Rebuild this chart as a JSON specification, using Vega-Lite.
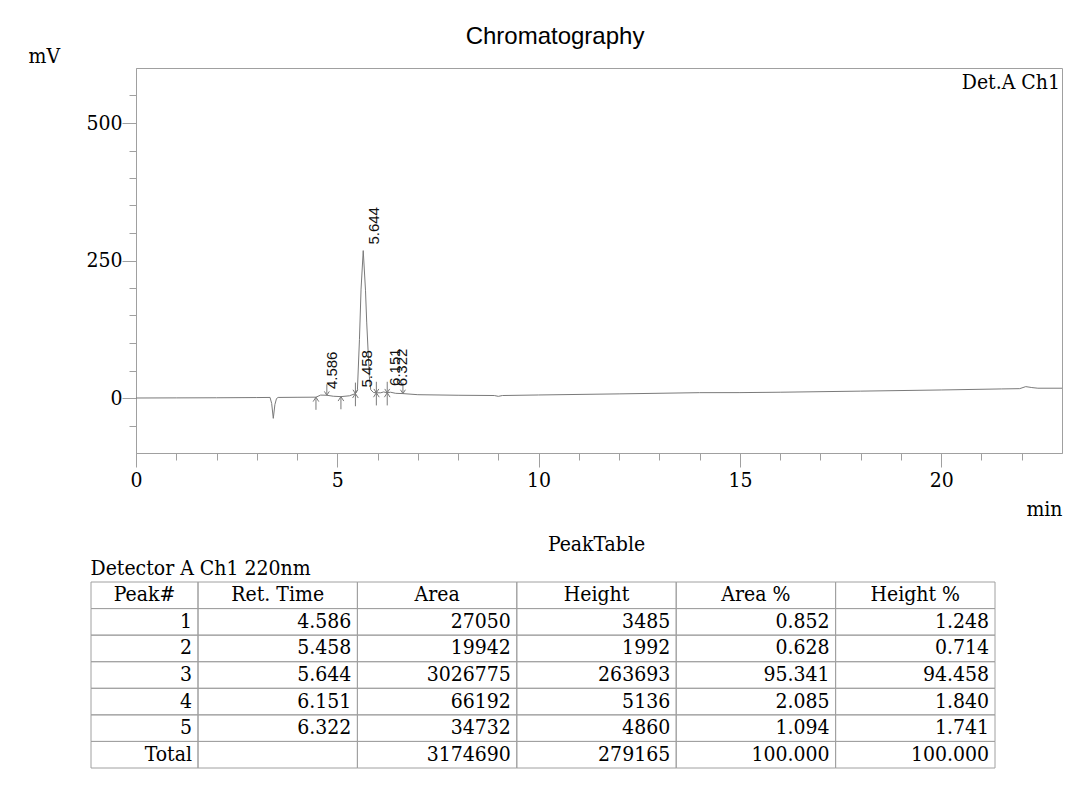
{
  "$schema": "https://vega.github.io/schema/vega-lite/v6.json",
  "background": "white",
  "padding": {"left": 27, "top": 24, "right": 5, "bottom": 5},
  "config": {
    "font": "DejaVu Serif Condensed",
    "view": {"stroke": null},
    "axis": {"grid": false},
    "title": {"fontWeight": "normal", "color": "#000"}
  },
  "datasets": {
    "trace": [
      {"t": 0, "mV": 0}, {"t": 1, "mV": 0.2}, {"t": 2, "mV": 0.4}, {"t": 3, "mV": 0.8}, {"t": 3.33, "mV": 1},
      {"t": 3.37, "mV": -10}, {"t": 3.41, "mV": -37}, {"t": 3.45, "mV": -12}, {"t": 3.49, "mV": -1}, {"t": 3.53, "mV": 1},
      {"t": 4, "mV": 1.3}, {"t": 4.47, "mV": 1.5}, {"t": 4.586, "mV": 5.3}, {"t": 4.74, "mV": 5}, {"t": 4.9, "mV": 3.2},
      {"t": 5.09, "mV": 2.5}, {"t": 5.3, "mV": 4}, {"t": 5.45, "mV": 8}, {"t": 5.5, "mV": 15}, {"t": 5.55, "mV": 106},
      {"t": 5.59, "mV": 198}, {"t": 5.644, "mV": 268}, {"t": 5.7, "mV": 196}, {"t": 5.73, "mV": 138}, {"t": 5.796, "mV": 39},
      {"t": 5.83, "mV": 15}, {"t": 5.9, "mV": 10}, {"t": 5.97, "mV": 9.5}, {"t": 6.08, "mV": 9.5}, {"t": 6.151, "mV": 11},
      {"t": 6.24, "mV": 9.5}, {"t": 6.322, "mV": 10.5}, {"t": 6.45, "mV": 8.5}, {"t": 6.63, "mV": 8}, {"t": 7, "mV": 6},
      {"t": 8, "mV": 5}, {"t": 8.9, "mV": 4.5}, {"t": 9, "mV": 3}, {"t": 9.1, "mV": 4.5}, {"t": 10, "mV": 5.5},
      {"t": 12, "mV": 7.5}, {"t": 14, "mV": 9.7}, {"t": 15, "mV": 9.8}, {"t": 16, "mV": 10.5}, {"t": 18, "mV": 12.5},
      {"t": 20, "mV": 14.6}, {"t": 21.5, "mV": 16.5}, {"t": 21.95, "mV": 17}, {"t": 22.1, "mV": 20.7}, {"t": 22.25, "mV": 19},
      {"t": 22.4, "mV": 17.8}, {"t": 23, "mV": 17.8}
    ],
    "peaks": [
      {"rt": 4.586, "apex": 5.3},
      {"rt": 5.458, "apex": 8},
      {"rt": 5.644, "apex": 268},
      {"rt": 6.151, "apex": 11},
      {"rt": 6.322, "apex": 10.5}
    ],
    "arrows": [
      {"t": 4.47, "v": 1.5, "dir": "up"}, {"t": 5.09, "v": 2.5, "dir": "up"}, {"t": 5.45, "v": 8, "dir": "up"},
      {"t": 5.97, "v": 9.5, "dir": "up"}, {"t": 6.24, "v": 9.5, "dir": "up"},
      {"t": 4.74, "v": 5, "dir": "down"}, {"t": 5.45, "v": 8, "dir": "down"}, {"t": 5.97, "v": 9.5, "dir": "down"},
      {"t": 6.24, "v": 9.5, "dir": "down"}, {"t": 6.63, "v": 8, "dir": "down"}
    ],
    "table": [
      {"peak": "1", "rt": 4.586, "area": 27050, "height": 3485, "areaPct": 0.852, "heightPct": 1.248},
      {"peak": "2", "rt": 5.458, "area": 19942, "height": 1992, "areaPct": 0.628, "heightPct": 0.714},
      {"peak": "3", "rt": 5.644, "area": 3026775, "height": 263693, "areaPct": 95.341, "heightPct": 94.458},
      {"peak": "4", "rt": 6.151, "area": 66192, "height": 5136, "areaPct": 2.085, "heightPct": 1.84},
      {"peak": "5", "rt": 6.322, "area": 34732, "height": 4860, "areaPct": 1.094, "heightPct": 1.741},
      {"peak": "Total", "rt": null, "area": 3174690, "height": 279165, "areaPct": 100, "heightPct": 100}
    ],
    "header": [
      {"col": "peak", "name": "Peak#"},
      {"col": "rt", "name": "Ret. Time"},
      {"col": "area", "name": "Area"},
      {"col": "height", "name": "Height"},
      {"col": "areaPct", "name": "Area %"},
      {"col": "heightPct", "name": "Height %"}
    ]
  },
  "spacing": 13,
  "vconcat": [
    {
      "bounds": "flush",
      "spacing": 44,
      "hconcat": [
        {
          "width": 1, "height": 1,
          "data": {"values": [{"s": ""}]},
          "mark": {"type": "text"},
          "encoding": {"text": {"field": "s"}}
        },
        {
          "width": 926, "height": 385,
          "view": {"stroke": "#a0a0a0"},
          "title": {"text": "Chromatography", "font": "Liberation Sans", "fontSize": 24, "fontWeight": "normal", "color": "#000", "anchor": "middle", "dx": -44, "offset": -23, "baseline": "alphabetic"},
          "layer": [
            {
              "data": {"name": "trace"},
              "mark": {"type": "line", "color": "#7a7a7a", "strokeWidth": 1},
              "encoding": {
                "x": {
                  "field": "t", "type": "quantitative",
                  "scale": {"domain": [0, 23], "nice": false, "zero": false},
                  "axis": {
                    "values": [0,1,2,3,4,5,6,7,8,9,10,11,12,13,14,15,16,17,18,19,20,21,22],
                    "tickCount": 100,
                    "format": "d",
                    "labelExpr": "datum.value % 5 === 0 ? datum.label : ''",
                    "tickSize": {"expr": "datum.value % 5 === 0 ? 14 : 7"},
                    "tickColor": "#a0a0a0", "domainColor": "#a0a0a0", "tickWidth": 1, "domainWidth": 1,
                    "labelFont": "DejaVu Serif Condensed", "labelFontSize": 21, "labelColor": "#000",
                    "labelPadding": 2, "labelFlush": false, "labelOverlap": false,
                    "title": "min", "titleFont": "DejaVu Serif Condensed", "titleFontSize": 21, "titleFontWeight": "normal", "titleColor": "#000",
                    "titleAnchor": "end", "titleAlign": "right", "titleBaseline": "alphabetic", "titleX": 926, "titleY": 62
                  }
                },
                "y": {
                  "field": "mV", "type": "quantitative",
                  "scale": {"domain": [-100, 600], "nice": false, "zero": false},
                  "axis": {
                    "values": [-50,0,50,100,150,200,250,300,350,400,450,500,550],
                    "tickCount": 100,
                    "format": "d",
                    "labelExpr": "datum.value % 250 === 0 ? datum.label : ''",
                    "tickSize": {"expr": "datum.value % 250 === 0 ? 14 : 7"},
                    "tickColor": "#a0a0a0", "domainColor": "#a0a0a0", "tickWidth": 1, "domainWidth": 1,
                    "labelFont": "DejaVu Serif Condensed", "labelFontSize": 21, "labelColor": "#000",
                    "labelPadding": 0, "labelBaseline": "middle", "labelFlush": false, "labelOverlap": false,
                    "title": "mV", "titleFont": "DejaVu Serif Condensed", "titleFontSize": 21, "titleFontWeight": "normal", "titleColor": "#000",
                    "titleAngle": 0, "titleAlign": "left", "titleBaseline": "alphabetic", "titleX": -108, "titleY": -6
                  }
                }
              }
            },
            {
              "data": {"name": "arrows"},
              "transform": [{"filter": "datum.dir === 'up'"}],
              "mark": {"type": "point", "shape": "M0,0L0,2M-0.45,0.7L0,0L0.45,0.7", "size": 160, "filled": false, "color": "#7a7a7a", "strokeWidth": 1, "opacity": 1},
              "encoding": {"x": {"field": "t", "type": "quantitative"}, "y": {"field": "v", "type": "quantitative"}}
            },
            {
              "data": {"name": "arrows"},
              "transform": [{"filter": "datum.dir === 'down'"}],
              "mark": {"type": "point", "shape": "M0,0L0,-2M-0.45,-0.7L0,0L0.45,-0.7", "size": 121, "filled": false, "color": "#7a7a7a", "strokeWidth": 1, "opacity": 1},
              "encoding": {"x": {"field": "t", "type": "quantitative"}, "y": {"field": "v", "type": "quantitative"}}
            },
            {
              "data": {"name": "peaks"},
              "mark": {"type": "text", "angle": 270, "align": "left", "baseline": "middle", "dx": 6, "dy": 11, "font": "Liberation Sans", "fontSize": 15, "color": "#111"},
              "encoding": {
                "x": {"field": "rt", "type": "quantitative"},
                "y": {"field": "apex", "type": "quantitative"},
                "text": {"field": "rt", "type": "quantitative", "format": ".3f"}
              }
            },
            {
              "data": {"values": [{"label": "Det.A Ch1"}]},
              "mark": {"type": "text", "align": "right", "baseline": "alphabetic", "dx": -2, "dy": 21, "fontSize": 21, "color": "#000"},
              "encoding": {
                "x": {"datum": 23, "type": "quantitative"},
                "y": {"datum": 600, "type": "quantitative"},
                "text": {"field": "label"}
              }
            }
          ]
        }
      ]
    },
    {
      "bounds": "flush",
      "spacing": 0,
      "hconcat": [
        {
          "width": 107, "height": 186,
          "title": {"text": "Detector A Ch1 220nm", "anchor": "start", "font": "DejaVu Serif Condensed", "fontSize": 21, "fontWeight": "normal", "color": "#000", "offset": -14, "baseline": "alphabetic"},
          "layer": [
            {
              "data": {"name": "table"},
              "transform": [{"fold": ["peak"], "as": ["col", "value"]}],
              "mark": {"type": "rect", "filled": false, "color": "#a0a0a0", "strokeWidth": 1},
              "encoding": {
                "x": {"field": "col", "type": "nominal", "scale": {"type": "band", "domain": ["peak"], "paddingInner": 0, "paddingOuter": 0}, "axis": null},
                "y": {"field": "peak", "type": "nominal", "scale": {"type": "band", "domain": ["hdr", "1", "2", "3", "4", "5", "Total"], "paddingInner": 0, "paddingOuter": 0}, "axis": null}
              }
            },
            {
              "data": {"name": "header"},
              "transform": [{"filter": "datum.col === 'peak'"}],
              "mark": {"type": "rect", "filled": false, "color": "#a0a0a0", "strokeWidth": 1},
              "encoding": {
                "x": {"field": "col", "type": "nominal"},
                "y": {"datum": "hdr", "type": "nominal"}
              }
            },
            {
              "data": {"name": "header"},
              "transform": [{"filter": "datum.col === 'peak'"}],
              "mark": {"type": "text", "baseline": "middle", "fontSize": 21, "color": "#000"},
              "encoding": {
                "x": {"field": "col", "type": "nominal"},
                "y": {"datum": "hdr", "type": "nominal"},
                "text": {"field": "name"}
              }
            },
            {
              "data": {"name": "table"},
              "transform": [{"fold": ["peak"], "as": ["col", "value"]}],
              "mark": {"type": "text", "align": "right", "baseline": "middle", "dx": -6, "fontSize": 21, "color": "#000"},
              "encoding": {
                "x": {"field": "col", "type": "nominal", "bandPosition": 1},
                "y": {"field": "peak", "type": "nominal"},
                "text": {"field": "value"}
              }
            }
          ]
        },
        {
          "width": 797, "height": 186,
          "title": {"text": "PeakTable", "anchor": "middle", "font": "DejaVu Serif Condensed", "fontSize": 21, "fontWeight": "normal", "color": "#000", "offset": 10, "baseline": "alphabetic"},
          "layer": [
            {
              "data": {"name": "table"},
              "transform": [{"fold": ["rt", "area", "height", "areaPct", "heightPct"], "as": ["col", "value"]}],
              "mark": {"type": "rect", "filled": false, "color": "#a0a0a0", "strokeWidth": 1},
              "encoding": {
                "x": {"field": "col", "type": "nominal", "scale": {"type": "band", "domain": ["rt", "area", "height", "areaPct", "heightPct"], "paddingInner": 0, "paddingOuter": 0}, "axis": null},
                "y": {"field": "peak", "type": "nominal", "scale": {"type": "band", "domain": ["hdr", "1", "2", "3", "4", "5", "Total"], "paddingInner": 0, "paddingOuter": 0}, "axis": null}
              }
            },
            {
              "data": {"name": "header"},
              "transform": [{"filter": "datum.col !== 'peak'"}],
              "mark": {"type": "rect", "filled": false, "color": "#a0a0a0", "strokeWidth": 1},
              "encoding": {
                "x": {"field": "col", "type": "nominal"},
                "y": {"datum": "hdr", "type": "nominal"}
              }
            },
            {
              "data": {"name": "header"},
              "transform": [{"filter": "datum.col !== 'peak'"}],
              "mark": {"type": "text", "baseline": "middle", "fontSize": 21, "color": "#000"},
              "encoding": {
                "x": {"field": "col", "type": "nominal"},
                "y": {"datum": "hdr", "type": "nominal"},
                "text": {"field": "name"}
              }
            },
            {
              "data": {"name": "table"},
              "transform": [
                {"fold": ["rt", "areaPct", "heightPct"], "as": ["col", "value"]},
                {"filter": "datum.value != null"}
              ],
              "mark": {"type": "text", "align": "right", "baseline": "middle", "dx": -6, "fontSize": 21, "color": "#000"},
              "encoding": {
                "x": {"field": "col", "type": "nominal", "bandPosition": 1},
                "y": {"field": "peak", "type": "nominal"},
                "text": {"field": "value", "type": "quantitative", "format": ".3f"}
              }
            },
            {
              "data": {"name": "table"},
              "transform": [{"fold": ["area", "height"], "as": ["col", "value"]}],
              "mark": {"type": "text", "align": "right", "baseline": "middle", "dx": -6, "fontSize": 21, "color": "#000"},
              "encoding": {
                "x": {"field": "col", "type": "nominal", "bandPosition": 1},
                "y": {"field": "peak", "type": "nominal"},
                "text": {"field": "value", "type": "quantitative", "format": "d"}
              }
            }
          ]
        }
      ]
    }
  ]
}
